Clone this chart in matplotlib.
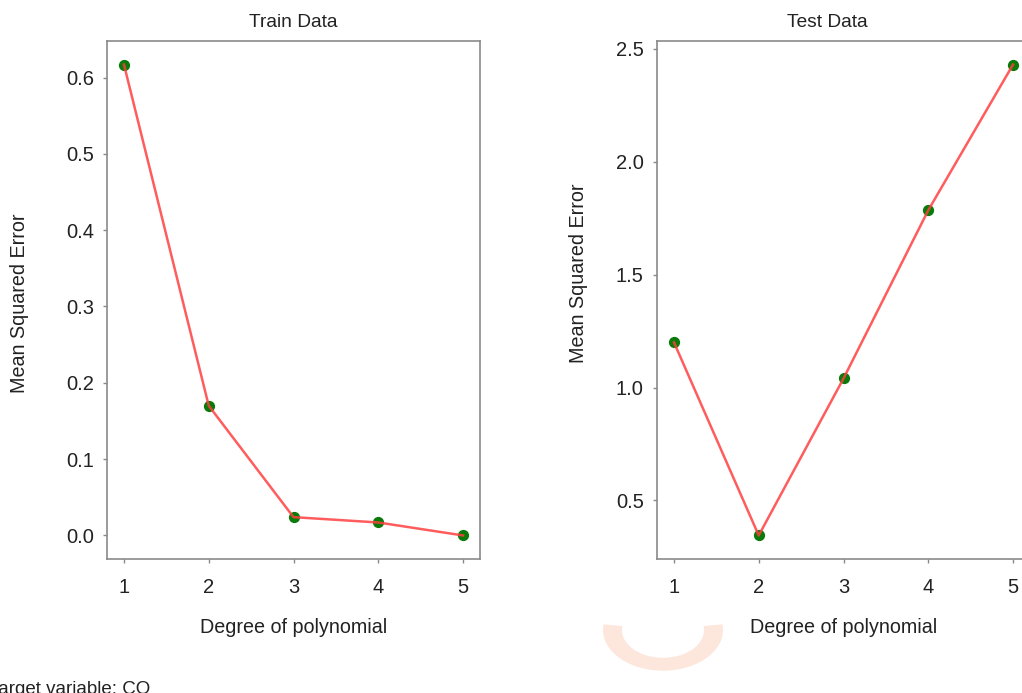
import matplotlib
matplotlib.use('Agg')
import matplotlib.pyplot as plt
from matplotlib.patches import Wedge

# data
degrees = [1, 2, 3, 4, 5]
train_mse = [0.617, 0.170, 0.024, 0.017, 0.0]
test_mse = [1.20, 0.345, 1.04, 1.785, 2.43]

plt.rcParams['font.family'] = ['Liberation Sans', 'DejaVu Sans']

W, H = 1022, 693
fig = plt.figure(figsize=(W / 100, H / 100), dpi=100)

ax1 = fig.add_axes([107 / W, 1 - 559 / H, 373 / W, 518 / H])
ax2 = fig.add_axes([657 / W, 1 - 559 / H, 373 / W, 518 / H])

TXT = '#222222'


def style(ax, ylabel_xy):
    for side in ['left', 'bottom', 'top', 'right']:
        ax.spines[side].set_color('#8a8a8a')
        ax.spines[side].set_linewidth(1.2)
    ax.tick_params(length=3, width=1, color='#8a8a8a', labelsize=14.5,
                   labelcolor=TXT)
    ax.tick_params(axis='y', pad=6.5)
    ax.tick_params(axis='x', pad=11)
    ax.set_xticks(degrees)
    ax.set_xlabel('Degree of polynomial', fontsize=14.2, color=TXT, labelpad=15)
    ax.set_ylabel('Mean Squared Error', fontsize=14.2, color=TXT)
    ax.yaxis.set_label_coords(*ylabel_xy)


def draw(ax, values):
    ax.scatter(degrees, values, s=50, color='#0a7a0a', zorder=2)
    ax.plot(degrees, values, color='#ff4040', lw=1.8, alpha=0.85, zorder=3)


draw(ax1, train_mse)
style(ax1, (-(107 - 29) / 373, (559 - 303) / 518))
ax1.set_title('Train Data', fontsize=13.8, color=TXT, pad=10)

draw(ax2, test_mse)
style(ax2, (-(657 - 588) / 373, (559 - 273) / 518))
ax2.set_yticks([0.5, 1.0, 1.5, 2.0, 2.5])
ax2.set_title('Test Data', fontsize=13.8, color=TXT, pad=10, x=(827 - 657) / 373)

# faint watermark arc at bottom
ring = Wedge((663 / W, 1 - 630 / H), 60 / W, 172, 368, width=19 / W,
             transform=fig.transFigure, facecolor='#fde6dc', edgecolor='none')
fig.patches.append(ring)

fig.text(150 / W, -1 / H, 'Target variable: CO', fontsize=13.5, color=TXT,
         ha='right', va='baseline')

fig.savefig('out.png', dpi=100)
